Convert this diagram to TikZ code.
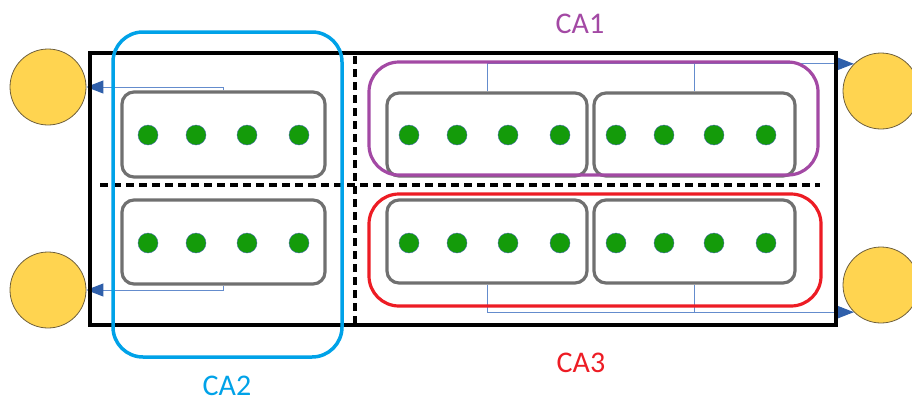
\documentclass[tikz,border=0pt]{standalone}
\usepackage{fontspec}
\setmainfont{Carlito}
\usetikzlibrary{arrows.meta}
\definecolor{ylw}{RGB}{255,212,80}
\definecolor{ylwline}{RGB}{110,95,60}
\definecolor{dotg}{RGB}{20,155,10}
\definecolor{dotedge}{RGB}{70,110,170}
\definecolor{cablue}{RGB}{0,162,232}
\definecolor{capurple}{RGB}{163,73,164}
\definecolor{cared}{RGB}{237,28,36}
\definecolor{boxgray}{RGB}{112,112,112}
\definecolor{connblue}{RGB}{100,140,205}
\definecolor{tipblue}{RGB}{47,95,170}
\begin{document}
\begin{tikzpicture}[x=1pt,y=-1pt,
  wheel/.style={circle,draw=ylwline,line width=0.8pt,fill=ylw,minimum size=76pt,inner sep=0pt},
  module/.style={draw=boxgray,line width=3.2pt,rounded corners=12pt,inner sep=0pt},
  cell/.style={circle,fill=dotg,draw=dotedge,line width=0.4pt,minimum size=20pt,inner sep=0pt},
  conn/.style={draw=connblue,line width=1pt},
  connarrow/.style={conn,-{Triangle[length=17pt,width=13pt,color=tipblue]}},
  sep/.style={line width=3.4pt,dash pattern=on 8pt off 5pt},
  calabel/.style={font=\fontsize{30}{32}\selectfont,inner sep=0pt}
]
\useasboundingbox (0,0) rectangle (912,402);

% wheels
\node[wheel] (cl1) at (48,87) {};
\node[wheel] (cl2) at (48,290) {};
\node[wheel] (cr1) at (881,91) {};
\node[wheel] (cr2) at (881,285) {};

% modules
\node[module,minimum width=203pt,minimum height=85pt] (lt) at (223.5,134.5) {};
\node[module,minimum width=203pt,minimum height=84pt] (lb) at (223.5,242) {};
\node[module,minimum width=200pt,minimum height=83pt] (rt1) at (487,134.5) {};
\node[module,minimum width=201pt,minimum height=83pt] (rt2) at (694.5,134.5) {};
\node[module,minimum width=200pt,minimum height=83pt] (rb1) at (487,241.5) {};
\node[module,minimum width=201pt,minimum height=83pt] (rb2) at (694.5,241.5) {};

% connectors
\coordinate (tr) at (cr1.135);
\coordinate (br) at (cr2.-135);
\draw[connarrow] (lt.north) |- (cl1.east);
\draw[connarrow] (lb.south) |- (cl2.east);
\draw[connarrow] (rt1.north) |- (tr);
\draw[conn] (rt2.north) -- (rt2.north |- tr);
\draw[connarrow] (rb1.south) |- (br);
\draw[conn] (rb2.south) -- (rb2.south |- br);

% cells
\foreach \x [count=\i] in {148,196,247,299}{
  \node[cell] (lt\i) at (\x,135) {};
  \node[cell] (lb\i) at (\x,243) {};
}
\foreach \x [count=\i] in {409,457,508,560,616,664,714,766}{
  \node[cell] (rt\i) at (\x,135) {};
  \node[cell] (rb\i) at (\x,243) {};
}

% groups
\draw[capurple,line width=3.2pt,rounded corners=30pt] (369,62) rectangle (818,175);
\draw[cared,line width=3.2pt,rounded corners=30pt] (369,194) rectangle (821,306);

% frame
\node[draw,line width=3.5pt,minimum width=746pt,minimum height=272pt,inner sep=0pt] (frame) at (463,189) {};
\draw[sep] (355,56) -- (355,324);
\draw[sep] (100,185) -- (820,185);

\draw[cablue,line width=3.5pt,rounded corners=30pt] (113,32) rectangle (342,357);

% labels
\node[calabel,text=capurple] (ca1) at (580,24) {CA1};
\node[calabel,text=cablue] (ca2) at (227,386) {CA2};
\node[calabel,text=cared] (ca3) at (581,363) {CA3};
\end{tikzpicture}
\end{document}
